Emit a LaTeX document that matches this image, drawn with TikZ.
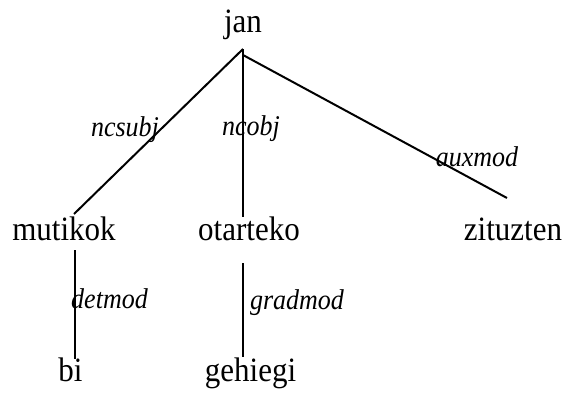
\documentclass[tikz,border=0pt]{standalone}
\usepackage{fontspec}
\setmainfont{Liberation Serif}
% slightly tall lettering
\newcommand{\tallword}[1]{\scalebox{1}[1.1]{#1}}
\begin{document}
\begin{tikzpicture}[x=1pt,y=-1pt,
  word/.style={anchor=base,inner sep=0pt,font=\fontsize{31}{36}\selectfont},
  rel/.style={anchor=base,inner sep=0pt,font=\fontsize{26}{30}\selectfont\itshape},
  arc/.style={line width=2pt,black}]
  \useasboundingbox (0,0) rectangle (566,392);

  % words of the sentence
  \node[word] (jan) at (243,32) {\tallword{jan}};
  \node[word] (mutikok) at (64,240) {\tallword{mutikok}};
  \node[word] (otarteko) at (249,240) {\tallword{otarteko}};
  \node[word] (zituzten) at (513,240) {\tallword{zituzten}};
  \node[word] (bi) at (70.5,381) {\tallword{bi}};
  \node[word] (gehiegi) at (250.5,381) {\tallword{gehiegi}};

  % attachment points of the dependency arcs
  \coordinate (janA) at (243,49);
  \coordinate (janB) at (243,55);
  \coordinate (mutikokT) at (74,214);
  \coordinate (otartekoT) at (243,217);
  \coordinate (zituztenT) at (507,198);
  \coordinate (mutikokB) at (75,250);
  \coordinate (biT) at (75,359);
  \coordinate (otartekoB) at (243,263);
  \coordinate (gehiegiT) at (243,357);

  % dependency arcs
  \draw[arc] (janA) -- (mutikokT);
  \draw[arc] (janA) -- (otartekoT);
  \draw[arc] (janB) -- (zituztenT);
  \draw[arc] (mutikokB) -- (biT);
  \draw[arc] (otartekoB) -- (gehiegiT);

  % relation labels
  \node[rel] (ncsubj) at (125,136.5) {\tallword{ncsubj}};
  \node[rel] (ncobj) at (251,135.5) {\tallword{ncobj}};
  \node[rel] (auxmod) at (477,166) {\tallword{auxmod}};
  \node[rel] (detmod) at (109.5,308) {\tallword{detmod}};
  \node[rel] (gradmod) at (297,309) {\tallword{gradmod}};
\end{tikzpicture}
\end{document}
